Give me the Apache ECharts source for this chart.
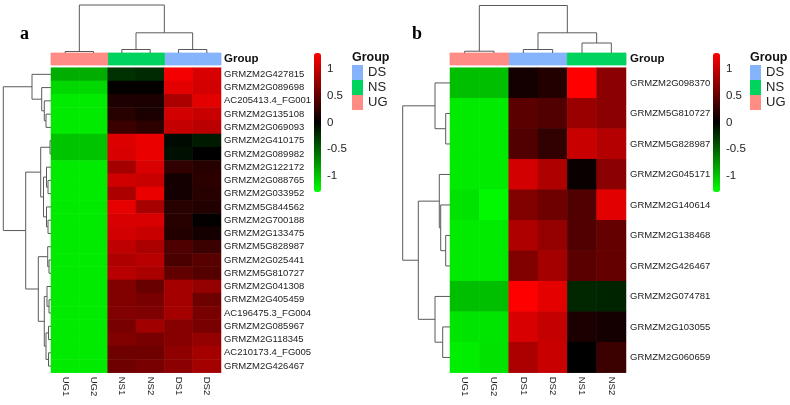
<!DOCTYPE html>
<html><head><meta charset="utf-8">
<script src="https://cdn.jsdelivr.net/npm/echarts@6/dist/echarts.min.js"></script>
<style>html,body{margin:0;padding:0;background:#fff}#c{width:790px;height:405px}</style>
</head><body><div id="c"></div>
<script>
// ---------- data ----------
const groupNames = ['DS', 'NS', 'UG'];
const groupColors = { DS: '#86b4fc', NS: '#00d35e', UG: '#ff8c85' };
const colorTicks = [-1, -0.5, 0, 0.5, 1];
const colorMin = -1.3, colorMax = 1.3;

// panel a
const colsA = ['UG1', 'UG2', 'NS1', 'NS2', 'DS1', 'DS2'];
const colGroupsA = ['UG', 'UG', 'NS', 'NS', 'DS', 'DS'];
const rowsA = ['GRMZM2G427815', 'GRMZM2G089698', 'AC205413.4_FG001', 'GRMZM2G135108', 'GRMZM2G069093',
  'GRMZM2G410175', 'GRMZM2G089982', 'GRMZM2G122172', 'GRMZM2G088765', 'GRMZM2G033952', 'GRMZM5G844562',
  'GRMZM2G700188', 'GRMZM2G133475', 'GRMZM5G828987', 'GRMZM2G025441', 'GRMZM5G810727', 'GRMZM2G041308',
  'GRMZM2G405459', 'AC196475.3_FG004', 'GRMZM2G085967', 'GRMZM2G118345', 'AC210173.4_FG005', 'GRMZM2G426467'];
const valuesA = [
  [-0.88, -0.88, -0.25, -0.22, 1.25, 1.10],
  [-1.10, -1.10, 0.02, 0.02, 1.17, 1.07],
  [-1.20, -1.20, 0.15, 0.14, 0.87, 1.17],
  [-1.20, -1.20, 0.20, 0.13, 1.07, 1.02],
  [-1.20, -1.20, 0.30, 0.23, 1.00, 0.95],
  [-1.00, -1.00, 1.12, 1.20, -0.05, -0.13],
  [-1.00, -1.00, 1.10, 1.20, -0.08, 0.00],
  [-1.20, -1.20, 0.84, 1.10, 0.25, 0.20],
  [-1.20, -1.20, 1.05, 1.02, 0.10, 0.23],
  [-1.20, -1.20, 0.87, 1.20, 0.10, 0.20],
  [-1.20, -1.20, 1.18, 0.85, 0.20, 0.18],
  [-1.20, -1.20, 1.10, 1.10, 0.20, 0.02],
  [-1.20, -1.20, 1.07, 1.02, 0.18, 0.10],
  [-1.20, -1.20, 0.97, 0.87, 0.40, 0.30],
  [-1.20, -1.20, 0.89, 0.94, 0.38, 0.45],
  [-1.20, -1.20, 0.94, 0.87, 0.50, 0.43],
  [-1.20, -1.20, 0.66, 0.53, 0.84, 0.76],
  [-1.20, -1.20, 0.66, 0.61, 0.84, 0.56],
  [-1.20, -1.20, 0.66, 0.64, 0.84, 0.61],
  [-1.20, -1.20, 0.61, 0.82, 0.69, 0.61],
  [-1.20, -1.20, 0.66, 0.61, 0.69, 0.76],
  [-1.20, -1.20, 0.56, 0.56, 0.74, 0.84],
  [-1.20, -1.20, 0.56, 0.61, 0.71, 0.84]
];
// trees: [height, left, right]; leaves are indices
const colTreeA = [48, [1.5, 0, 1], [20.2, [3.5, 2, 3], [3.5, 4, 5]]];
const rowTreeA = [47.7,
  [19, 0, [9.3, 1, [6.7, 2, [5, 3, 4]]]],
  [25.3,
    [10.3, [1, 5, 6], [7.5, [4.5, 7, [3, 8, 9]], [4.5, 10, [3, 11, 12]]]],
    [12.7, [3.3, 13, [2, 14, 15]], [6.7, [4, 16, [2, 17, 18]], [5, [2.5, 19, 20], [2.5, 21, 22]]]]]];

// panel b
const colsB = ['UG1', 'UG2', 'DS1', 'DS2', 'NS1', 'NS2'];
const colGroupsB = ['UG', 'UG', 'DS', 'DS', 'NS', 'NS'];
const rowsB = ['GRMZM2G098370', 'GRMZM5G810727', 'GRMZM5G828987', 'GRMZM2G045171', 'GRMZM2G140614',
  'GRMZM2G138468', 'GRMZM2G426467', 'GRMZM2G074781', 'GRMZM2G103055', 'GRMZM2G060659'];
const valuesB = [
  [-0.97, -0.97, 0.10, 0.18, 1.30, 0.71],
  [-1.20, -1.20, 0.46, 0.41, 0.79, 0.71],
  [-1.20, -1.20, 0.41, 0.25, 1.02, 0.92],
  [-1.20, -1.20, 1.07, 0.89, 0.05, 0.71],
  [-1.15, -1.27, 0.66, 0.56, 0.41, 1.15],
  [-1.20, -1.20, 0.89, 0.76, 0.41, 0.51],
  [-1.20, -1.20, 0.66, 0.84, 0.46, 0.51],
  [-0.97, -0.97, 1.30, 1.17, -0.20, -0.18],
  [-1.17, -1.17, 1.10, 1.00, 0.13, 0.10],
  [-1.22, -1.15, 0.87, 1.02, 0.00, 0.30]
];
const colTreeB = [47.5, [1.8, 0, 1], [20.2, [3.5, 2, 3], [10, 4, 5]]];
const rowTreeB = [47.3,
  [15, 0, [4.3, 1, 2]],
  [31.7, [10.7, 3, [9.3, 4, [4.3, 5, 6]]], [15, 7, [7.3, 8, 9]]]];

// ---------- build ----------
const FONT = "'Liberation Sans', Arial, sans-serif";
function dendroSegs(tree, top) {
  const segs = [];
  (function lay(n) {
    if (typeof n === 'number') return [n, 0];
    const L = lay(n[1]), R = lay(n[2]), h = n[0];
    const s = [[L[0], L[1], L[0], h], [R[0], R[1], R[0], h], [L[0], h, R[0], h]];
    s.forEach(q => segs.push(top ? q : [q[1], q[0], q[3], q[2]]));
    return [(L[0] + R[0]) / 2, h];
  })(tree);
  return segs;
}
const lineRender = (params, api) => {
  const p1 = api.coord([api.value(0), api.value(1)]);
  const p2 = api.coord([api.value(2), api.value(3)]);
  return { type: 'line', shape: { x1: p1[0], y1: p1[1], x2: p2[0], y2: p2[1] },
    style: { stroke: '#5a5a5a', lineWidth: 1 } };
};
const rectRender = (params, api) => {
  const c = api.coord([api.value(0), api.value(1)]);
  const s = api.size([1, 1]);
  const col = api.visual('color');
  return { type: 'rect', shape: { x: c[0] - s[0] / 2, y: c[1] - s[1] / 2, width: s[0], height: s[1] },
    style: { fill: col, stroke: col, lineWidth: 0.8 } };
};

const option = { animation: false, backgroundColor: '#fff', textStyle: { fontFamily: FONT },
  title: [], grid: [], xAxis: [], yAxis: [], series: [], visualMap: [], legend: [] };

function addPanel(p) {
  const g0 = option.grid.length;
  const TOP = 67.7, H = 305;
  // 0 heatmap, 1 annotation, 2 top dendro, 3 row dendro, 4 colorbar axis
  option.grid.push(
    { left: p.hx, top: TOP, width: p.hw, height: H, outerBoundsMode: 'none' },
    { left: p.hx, top: 53, width: p.hw, height: 12, outerBoundsMode: 'none' },
    { left: p.hx, top: 5, width: p.hw, height: 48, outerBoundsMode: 'none' },
    { left: p.hx - 48, top: TOP, width: 48, height: H, outerBoundsMode: 'none' },
    { left: p.cbx, top: 53, width: 7, height: 139, outerBoundsMode: 'none' }
  );
  const hid = { show: false };
  option.xAxis.push(
    { gridIndex: g0, type: 'category', data: p.cols, position: 'bottom',
      axisLine: hid, axisTick: hid, splitLine: hid,
      axisLabel: { rotate: -90, margin: 4, fontSize: 9.5, color: '#222', fontFamily: FONT } },
    { gridIndex: g0 + 1, type: 'category', data: p.cols, show: false },
    { gridIndex: g0 + 2, type: 'value', min: -0.5, max: p.cols.length - 0.5, show: false },
    { gridIndex: g0 + 3, type: 'value', min: 0, max: 48, inverse: true, show: false },
    { gridIndex: g0 + 4, type: 'value', show: false }
  );
  option.yAxis.push(
    { gridIndex: g0, type: 'category', data: p.rows, inverse: true, position: 'right',
      axisLine: hid, axisTick: hid, splitLine: hid,
      axisLabel: { margin: p.lm, fontSize: 9.5, color: '#222', fontFamily: FONT } },
    { gridIndex: g0 + 1, type: 'category', data: ['Group'], position: 'right',
      axisLine: hid, axisTick: hid, splitLine: hid,
      axisLabel: { margin: p.lm, fontSize: 11.5, fontWeight: 'bold', color: '#111', fontFamily: FONT } },
    { gridIndex: g0 + 2, type: 'value', min: 0, max: 48, show: false },
    { gridIndex: g0 + 3, type: 'value', min: -0.5, max: p.rows.length - 0.5, inverse: true, show: false },
    { gridIndex: g0 + 4, type: 'value', min: colorMin, max: colorMax, position: 'right',
      axisLine: hid, axisTick: hid, splitLine: hid,
      axisLabel: { customValues: colorTicks, margin: 6, fontSize: 11.5, color: '#222', fontFamily: FONT } }
  );
  const heatIdx = option.series.length;
  const data = [];
  p.values.forEach((row, r) => row.forEach((v, c) => data.push([c, r, v])));
  option.series.push({ type: 'heatmap', xAxisIndex: g0, yAxisIndex: g0, data: data,
    itemStyle: { borderWidth: 0 }, emphasis: { disabled: true } });
  groupNames.forEach(gn => {
    const d = [];
    p.colGroups.forEach((cg, i) => { if (cg === gn) d.push([i, 0]); });
    option.series.push({ type: 'custom', name: gn, xAxisIndex: g0 + 1, yAxisIndex: g0 + 1,
      itemStyle: { color: groupColors[gn] }, data: d, renderItem: rectRender, silent: true });
  });
  option.series.push({ type: 'custom', xAxisIndex: g0 + 2, yAxisIndex: g0 + 2,
    data: dendroSegs(p.colTree, true), renderItem: lineRender, silent: true });
  option.series.push({ type: 'custom', xAxisIndex: g0 + 3, yAxisIndex: g0 + 3,
    data: dendroSegs(p.rowTree, false), renderItem: lineRender, silent: true });
  option.visualMap.push({ type: 'continuous', seriesIndex: heatIdx, min: colorMin, max: colorMax,
    orient: 'vertical', left: p.cbx, top: 53, itemWidth: 7, itemHeight: 139, padding: 0,
    calculable: false, hoverLink: false, inRange: { color: ['#00ff00', '#000000', '#ff0000'] } });
  option.legend.push({ data: groupNames, orient: 'vertical', left: p.lgx, top: 65, padding: 0,
    itemWidth: 11, itemHeight: 15, itemGap: 0, icon: 'rect', selectedMode: false,
    textStyle: { fontSize: 13, color: '#222', fontFamily: FONT } });
  option.title.push(
    { text: p.letter, left: p.ltx, top: 25, padding: 0,
      textStyle: { fontFamily: "'Liberation Serif', 'Times New Roman', serif", fontWeight: 'bold', fontSize: 18, color: '#000' } },
    { text: 'Group', left: p.lgx, top: 51, padding: 0,
      textStyle: { fontFamily: FONT, fontWeight: 'bold', fontSize: 12.5, color: '#111' } }
  );
}

addPanel({ hx: 51, hw: 170, cbx: 314, lgx: 352, ltx: 20, lm: 3, letter: 'a',
  cols: colsA, colGroups: colGroupsA, rows: rowsA, values: valuesA, colTree: colTreeA, rowTree: rowTreeA });
addPanel({ hx: 450, hw: 176, cbx: 713, lgx: 750, ltx: 412, lm: 4, letter: 'b',
  cols: colsB, colGroups: colGroupsB, rows: rowsB, values: valuesB, colTree: colTreeB, rowTree: rowTreeB });

const chart = echarts.init(document.getElementById('c'));
chart.setOption(option);
</script></body></html>
